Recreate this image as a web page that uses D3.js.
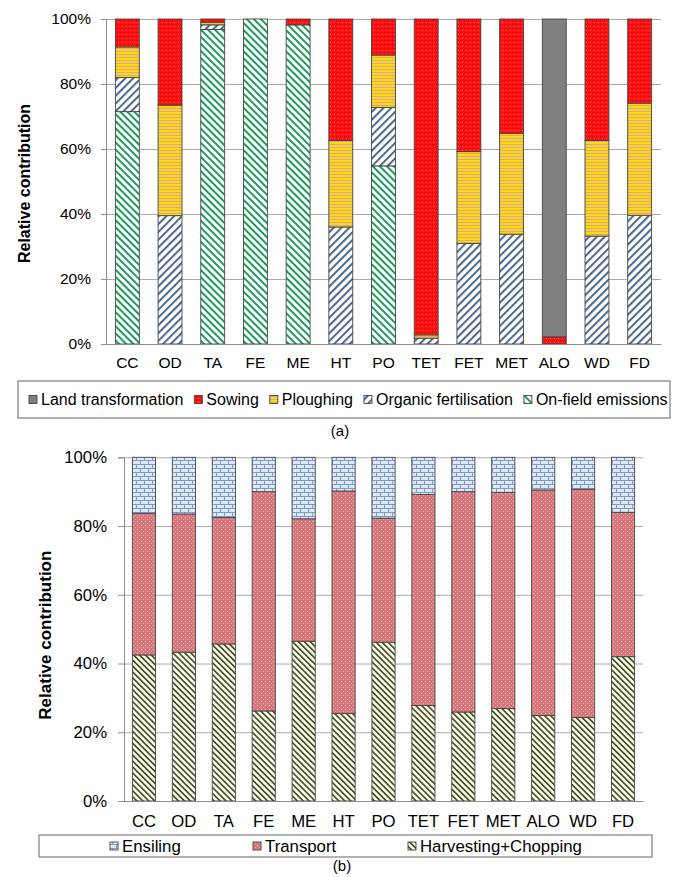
<!DOCTYPE html>
<html>
<head>
<meta charset="utf-8">
<script src="https://cdn.jsdelivr.net/npm/d3@7"></script>
<style>
  body { margin: 0; background: #fff; }
  svg { display: block; font-family: "Liberation Sans", Arial, sans-serif; }
</style>
</head>
<body>
<script>
// categories shared by both panels
const categories = ["CC","OD","TA","FE","ME","HT","PO","TET","FET","MET","ALO","WD","FD"];

// panel (a) – stacked bottom to top, % of total
const onFieldEmissions   = [71.5, 0, 96.8, 100, 98.2, 0, 54.8, 0, 0, 0, 0, 0, 0];
const organicFertilisation = [10.5, 39.5, 1.4, 0, 0, 36.0, 18.0, 1.8, 31.0, 33.8, 0, 33.2, 39.6];
const ploughing          = [9.4, 34.0, 0.7, 0, 0, 26.6, 16.1, 1.0, 28.2, 31.0, 0, 29.4, 34.5];
const sowing             = [8.6, 26.5, 1.1, 0, 1.8, 37.4, 11.1, 97.2, 40.8, 35.2, 2.2, 37.4, 25.9];
const landTransformation = [0, 0, 0, 0, 0, 0, 0, 0, 0, 0, 97.8, 0, 0];

// panel (b)
const harvesting = [42.5, 43.3, 45.7, 26.2, 46.5, 25.5, 46.2, 27.8, 25.9, 26.9, 24.9, 24.3, 42.0];
const transport  = [41.2, 40.2, 36.8, 63.8, 35.6, 64.7, 36.1, 61.4, 64.1, 62.9, 65.6, 66.4, 42.0];
const ensiling   = [16.3, 16.5, 17.5, 10.0, 17.9, 9.8, 17.7, 10.8, 10.0, 10.2, 9.5, 9.3, 16.0];

const yTicks = [0, 20, 40, 60, 80, 100];

const svg = d3.select("body").append("svg").attr("width", 678).attr("height", 877);
const defs = svg.append("defs");

// ---- fill patterns ----
function stripes(id, w, color, bg, lineW, angle) {
  const p = defs.append("pattern").attr("id", id).attr("patternUnits", "userSpaceOnUse")
    .attr("width", w).attr("height", w).attr("patternTransform", `rotate(${angle})`);
  p.append("rect").attr("width", w).attr("height", w).attr("fill", bg);
  p.append("rect").attr("width", lineW).attr("height", w).attr("fill", color);
}
stripes("pOnField", 5, "#1e9c5c", "#fff", 2, -45);
stripes("pOrganic", 5.5, "#4a6790", "#fff", 2, 45);
stripes("pHarvest", 4.2, "#4a5222", "#fbfbf0", 1.7, -45);

// small dotted texture: bg colour plus a few offset pixels
function dots(id, size, bg, pts) {
  const p = defs.append("pattern").attr("id", id).attr("patternUnits", "userSpaceOnUse")
    .attr("width", size).attr("height", size);
  p.append("rect").attr("width", size).attr("height", size).attr("fill", bg);
  pts.forEach(([x, y, c]) => p.append("rect").attr("x", x).attr("y", y)
    .attr("width", 1).attr("height", 1).attr("fill", c));
}
dots("pSowing", 4, "#ff1212", [[0, 0, "#e00000"], [2, 2, "#ff5a5a"], [2, 0, "#f00000"]]);
dots("pTransport", 4, "#d9777b", [[1, 1, "#f0c4c4"], [3, 3, "#e9a9aa"], [3, 1, "#cf6a6e"]]);

let p = defs.append("pattern").attr("id", "pPlough").attr("patternUnits", "userSpaceOnUse")
  .attr("width", 4).attr("height", 3);
p.append("rect").attr("width", 4).attr("height", 3).attr("fill", "#ffdc00");
p.append("rect").attr("y", 0).attr("width", 4).attr("height", 1).attr("fill", "#d6a0b0");

p = defs.append("pattern").attr("id", "pEnsiling").attr("patternUnits", "userSpaceOnUse")
  .attr("width", 8).attr("height", 8);
p.append("rect").attr("width", 8).attr("height", 8).attr("fill", "#dfe9f5");
p.append("path").attr("d", "M0,0.5H8M0,4.5H8M0.5,0V4.5M4.5,4.5V8")
  .attr("stroke", "#7d9cc4").attr("stroke-width", 1).attr("fill", "none");

// ---- one stacked panel ----
function drawPanel(cfg) {
  const { series, left, right, top, bottom, font } = cfg;
  const rows = categories.map((c, i) => {
    const r = { cat: c };
    series.forEach(s => { r[s.name] = s.values[i]; });
    return r;
  });
  const stack = d3.stack().keys(series.map(s => s.name))(rows);

  const x = d3.scaleBand().domain(categories).range([left, right])
    .paddingInner(cfg.pad).paddingOuter(cfg.pad / 2);
  const y = d3.scaleLinear().domain([0, 100]).range([bottom, top]);

  const g = svg.append("g");

  // gridlines
  g.append("g").attr("transform", `translate(${left},0)`)
    .call(d3.axisLeft(y).tickValues(yTicks).tickSize(-(right - left)).tickFormat(""))
    .call(a => a.select(".domain").remove())
    .selectAll("line").attr("stroke", "#ababab");

  // y axis
  g.append("g").attr("transform", `translate(${left},0)`)
    .call(d3.axisLeft(y).tickValues(yTicks).tickSize(cfg.tick).tickPadding(cfg.tickPad)
      .tickFormat(d => d + "%"))
    .call(a => a.select(".domain").attr("stroke", "#8c8c8c"))
    .call(a => a.selectAll("line").attr("stroke", "#8c8c8c"))
    .selectAll("text").attr("font-size", font).attr("fill", "#000")
    .attr("font-family", "Liberation Sans, Arial, sans-serif");

  // bars
  stack.forEach((layer, k) => {
    g.append("g").selectAll("rect")
      .data(layer.filter(d => d[1] - d[0] > 0))
      .join("rect")
      .attr("x", d => x(d.data.cat))
      .attr("width", x.bandwidth())
      .attr("y", d => y(d[1]))
      .attr("height", d => y(d[0]) - y(d[1]))
      .attr("fill", series[k].fill)
      .attr("stroke", "#444").attr("stroke-width", 0.9);
  });

  // x axis
  g.append("g").attr("transform", `translate(0,${bottom})`)
    .call(d3.axisBottom(x).tickSize(0).tickPadding(cfg.labelPad))
    .call(a => a.select(".domain").attr("stroke", "#8c8c8c"))
    .selectAll("text").attr("font-size", font).attr("fill", "#000")
    .attr("font-family", "Liberation Sans, Arial, sans-serif");

  // y title
  g.append("text")
    .attr("transform", `translate(${cfg.titleX},${(top + bottom) / 2 + cfg.titleShift}) rotate(-90)`)
    .attr("text-anchor", "middle").attr("dy", "0.35em")
    .attr("font-weight", "bold").attr("font-size", cfg.titleSize)
    .text("Relative contribution");

  // legend box
  const lg = cfg.legend;
  g.append("rect").attr("x", lg.x0).attr("y", lg.y0)
    .attr("width", lg.x1 - lg.x0).attr("height", lg.y1 - lg.y0)
    .attr("fill", "#fff").attr("stroke", "#7f7f7f").attr("stroke-width", 1.2);
  const cy = (lg.y0 + lg.y1) / 2;
  let cursor = lg.start;
  lg.order.forEach((s, i) => {
    const sx = lg.cols ? lg.cols[i] : cursor;
    g.append("rect").attr("x", sx).attr("y", cy - 4).attr("width", 8).attr("height", 8)
      .attr("fill", s.fill).attr("stroke", "#444").attr("stroke-width", 0.9);
    const t = g.append("text").attr("x", sx + 12).attr("y", cy).attr("dy", "0.35em")
      .attr("font-size", lg.font).text(s.name);
    cursor = sx + 12 + t.node().getComputedTextLength() + 11;
  });

  g.append("text").attr("x", cfg.capX).attr("y", cfg.capY).attr("dy", "0.35em")
    .attr("text-anchor", "middle").attr("font-size", cfg.capSize).text(cfg.caption);
}

const seriesA = [
  { name: "On-field emissions", values: onFieldEmissions, fill: "url(#pOnField)" },
  { name: "Organic fertilisation", values: organicFertilisation, fill: "url(#pOrganic)" },
  { name: "Ploughing", values: ploughing, fill: "url(#pPlough)" },
  { name: "Sowing", values: sowing, fill: "url(#pSowing)" },
  { name: "Land transformation", values: landTransformation, fill: "#808080" }
];
drawPanel({
  series: seriesA, left: 106, right: 661, top: 19, bottom: 344, pad: 0.44,
  font: 15.5, tick: 5, tickPad: 10, labelPad: 12.5,
  titleX: 24, titleShift: 2, titleSize: 16,
  legend: { x0: 18, x1: 670, y0: 381, y1: 418, start: 29, font: 16,
    order: seriesA.slice().reverse() },
  caption: "(a)", capX: 340, capY: 431, capSize: 15
});

const seriesB = [
  { name: "Harvesting+Chopping", values: harvesting, fill: "url(#pHarvest)" },
  { name: "Transport", values: transport, fill: "url(#pTransport)" },
  { name: "Ensiling", values: ensiling, fill: "url(#pEnsiling)" }
];
drawPanel({
  series: seriesB, left: 124, right: 643, top: 457.3, bottom: 801, pad: 0.42,
  font: 16.7, tick: 6, tickPad: 11, labelPad: 14.5,
  titleX: 45.5, titleShift: 6, titleSize: 17,
  legend: { x0: 39, x1: 652, y0: 835, y1: 857, font: 16.8, cols: [110, 253, 408],
    order: seriesB.slice().reverse() },
  caption: "(b)", capX: 342, capY: 866, capSize: 15
});
</script>
</body>
</html>
